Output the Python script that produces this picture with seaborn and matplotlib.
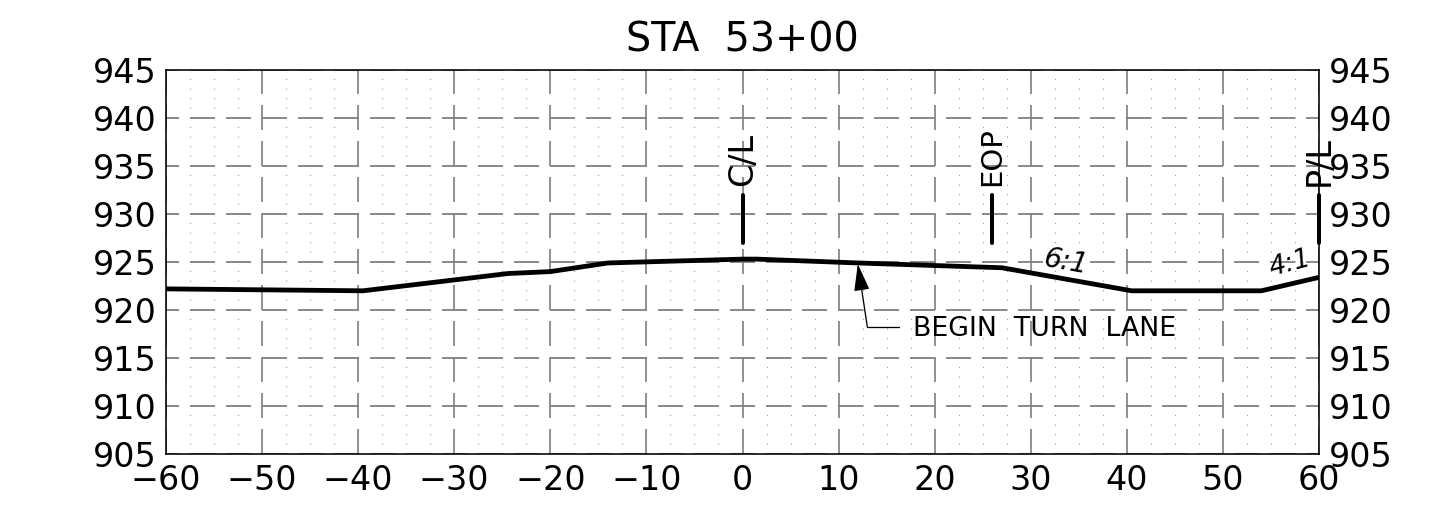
import matplotlib
matplotlib.use("Agg")
import matplotlib.pyplot as plt
from matplotlib.ticker import MultipleLocator
import pandas as pd
import seaborn as sns

# ground profile
offset = [-60, -39.5, -24.4, -20, -14, 0, 1.5, 12, 27, 40.5, 54, 60]
elev = [922.2, 922.0, 923.8, 924.0, 924.9, 925.3, 925.3, 924.9, 924.4, 922.0, 922.0, 923.4]

x_ticks = list(range(-60, 61, 10))
y_ticks = list(range(905, 946, 5))

# station markers: offset, label, label size
marker_x = [0, 26, 60]
marker_labels = ["C/L", "EOP", "P/L"]
marker_sizes = [24, 21, 24]
marker_bottom = 927
marker_top = 932

# leader for the turn lane note
leader_x = [16.25, 13, 12]
leader_y = [918.2, 918.2, 924.8]

PX = 0.72  # points per pixel at dpi 100

sns.set_theme(style="white")
plt.rcParams['font.family'] = ['DejaVu Sans']
plt.rcParams['lines.scale_dashes'] = False

fig = plt.figure(figsize=(14.35, 5.08), dpi=100)
ax = fig.add_axes([166 / 1435, 1 - 454 / 508, 1153 / 1435, 384 / 508])

df = pd.DataFrame({'offset': offset, 'elev': elev})
sns.lineplot(data=df, x='offset', y='elev', sort=False, color='black',
             lw=4.8 * PX, ax=ax, zorder=5, solid_joinstyle='miter')

ax.set_xlim(-60, 60)
ax.set_ylim(905, 945)
ax.set_xticks(x_ticks)
ax.set_yticks(y_ticks)
ax.xaxis.set_minor_locator(MultipleLocator(2.5))
ax.set_xlabel("")
ax.set_ylabel("")
ax.set_axisbelow(True)

# dashed major grid, dots come from the minor grid
ax.grid(True, which='major', axis='y', color='#808080', lw=1.8 * PX,
        linestyle=(12 * PX, (25 * PX, 11 * PX)))
ax.grid(True, which='major', axis='x', color='#707070', lw=1.5 * PX,
        linestyle=(0, (25 * PX, 11 * PX)))
ax.grid(True, which='minor', axis='x', color='#a0a0a0', lw=1.2 * PX,
        linestyle=(0, (1.2 * PX, 8.4 * PX)))

ax.tick_params(axis='both', which='both', length=0)
ax.tick_params(axis='y', labelsize=24, labelleft=True, labelright=True, pad=7, colors='black')
ax.tick_params(axis='x', labelsize=24, pad=7, colors='black')
for tick in ax.yaxis.get_major_ticks():
    tick.label1.set_va('center_baseline')
    tick.label2.set_va('center_baseline')

for s in ax.spines.values():
    s.set_visible(True)
    s.set_color('black')
    s.set_linewidth(1.6 * PX)

ax.set_title("STA  53+00", fontsize=28.5, color='black', pad=13)

# station ticks and labels
for mx, lab, sz in zip(marker_x, marker_labels, marker_sizes):
    ax.plot([mx, mx], [marker_bottom, marker_top], color='black', lw=4 * PX,
            solid_capstyle='round', zorder=5, clip_on=False)
    ax.text(mx, marker_top + 0.9, lab, rotation=90, ha='center', va='bottom',
            fontsize=sz, color='black', clip_on=False, zorder=6)

# slope notes
ax.text(33.6, 925.0, "6:1", rotation=-10, ha='center', va='center', fontsize=20,
        style='oblique', color='black', zorder=6)
ax.text(57.0, 924.8, "4:1", rotation=15, ha='center', va='center', fontsize=19,
        style='oblique', color='black', zorder=6)

# turn lane note
ax.plot(leader_x[:2], leader_y[:2], color='black', lw=1.3 * PX, zorder=6)
ax.annotate("", xy=(leader_x[2], leader_y[2]), xytext=(leader_x[1], leader_y[1]),
            arrowprops=dict(arrowstyle='-|>,head_length=1.4,head_width=0.4', color='black',
                            lw=1.3 * PX, shrinkA=0, shrinkB=0), zorder=6)
ax.text(17.7, 918.0, "BEGIN  TURN  LANE", ha='left', va='center', fontsize=19.3,
        color='black', zorder=6)

fig.savefig("out.png", dpi=100, facecolor='white')
